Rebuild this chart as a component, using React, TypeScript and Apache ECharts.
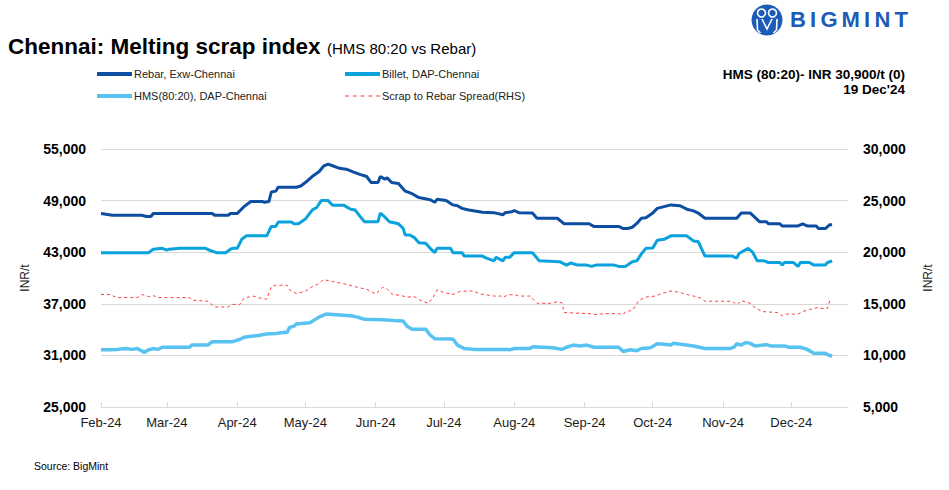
import React, { useEffect, useRef } from 'react';
import * as echarts from 'echarts';

const FONT = '"Liberation Sans", Arial, sans-serif';

// Axis ranges / ticks
const axisStart = '2024-02-01';
const axisEnd = '2024-12-26';
const monthTickLabels = ['Feb-24', 'Mar-24', 'Apr-24', 'May-24', 'Jun-24', 'Jul-24', 'Aug-24', 'Sep-24', 'Oct-24', 'Nov-24', 'Dec-24'];
const leftAxis = { min: 25000, max: 55000, interval: 6000 };
const rightAxis = { min: 5000, max: 30000, interval: 5000 };

const seriesNames = ['Rebar, Exw-Chennai', 'Billet, DAP-Chennai', 'HMS(80:20), DAP-Chennai', 'Scrap to Rebar Spread(RHS)'];

// Values (date MM-DD in 2024, INR/t)
const rebar: [string, number][] = [
  ['02-01', 47500], ['02-06', 47300], ['02-19', 47300], ['02-21', 47150], ['02-23', 47150], ['02-24', 47500],
  ['03-21', 47500], ['03-22', 47300], ['03-28', 47300], ['03-29', 47500], ['04-01', 47500], ['04-04', 48300],
  ['04-07', 48900], ['04-12', 48900], ['04-13', 48800], ['04-15', 48900], ['04-16', 50000], ['04-18', 50100],
  ['04-19', 50550], ['04-27', 50550], ['04-29', 50700], ['05-01', 51100], ['05-04', 51800], ['05-07', 52350],
  ['05-09', 53000], ['05-11', 53250], ['05-13', 53050], ['05-16', 52750], ['05-19', 52650], ['05-22', 52350],
  ['05-25', 52050], ['05-28', 51800], ['05-30', 51100], ['06-02', 51100], ['06-03', 51800], ['06-05', 51500],
  ['06-06', 51650], ['06-08', 51100], ['06-11', 51000], ['06-14', 50100], ['06-17', 49800], ['06-20', 49350],
  ['06-25', 49100], ['06-27', 48800], ['06-28', 49150], ['07-02', 49000], ['07-05', 48500], ['07-07', 48400],
  ['07-09', 48100], ['07-12', 47900], ['07-18', 47650], ['07-23', 47600], ['07-27', 47350], ['07-28', 47600],
  ['07-31', 47700], ['08-01', 47850], ['08-03', 47600], ['08-09', 47550], ['08-11', 46950], ['08-20', 46950],
  ['08-23', 46300], ['09-03', 46300], ['09-05', 46000], ['09-16', 46000], ['09-18', 45750], ['09-20', 45750],
  ['09-22', 45900], ['09-24', 46350], ['09-26', 46950], ['09-28', 47000], ['10-01', 47550], ['10-03', 48100],
  ['10-06', 48300], ['10-09', 48500], ['10-13', 48400], ['10-16', 48000], ['10-19', 47800], ['10-21', 47550],
  ['10-24', 46950], ['11-07', 46950], ['11-09', 47550], ['11-13', 47550], ['11-17', 46550], ['11-20', 46550],
  ['11-21', 46300], ['11-26', 46300], ['11-27', 46050], ['12-04', 46050], ['12-06', 46300], ['12-08', 46050],
  ['12-12', 46050], ['12-13', 45750], ['12-16', 45750], ['12-18', 46200], ['12-19', 46200],
];

const billet: [string, number][] = [
  ['02-01', 42950], ['02-22', 42950], ['02-24', 43350], ['02-28', 43450], ['03-01', 43250], ['03-02', 43350],
  ['03-07', 43450], ['03-18', 43450], ['03-20', 43200], ['03-23', 42950], ['03-27', 42950], ['03-29', 43350],
  ['03-30', 43450], ['04-01', 43450], ['04-03', 44500], ['04-05', 44900], ['04-14', 44900], ['04-16', 46000],
  ['04-18', 46000], ['04-19', 46500], ['04-25', 46500], ['04-26', 46300], ['04-28', 46300], ['05-01', 46850],
  ['05-04', 47900], ['05-06', 48200], ['05-08', 49000], ['05-11', 49000], ['05-13', 48450], ['05-18', 48450],
  ['05-21', 48000], ['05-23', 47900], ['05-25', 47200], ['05-27', 46550], ['06-02', 46550], ['06-03', 47550],
  ['06-05', 47100], ['06-07', 46550], ['06-11', 46300], ['06-13', 45800], ['06-14', 45000], ['06-16', 45000],
  ['06-18', 44700], ['06-20', 44100], ['06-23', 44050], ['06-25', 43450], ['06-27', 42950], ['06-28', 43450],
  ['07-04', 43450], ['07-05', 42950], ['07-09', 42950], ['07-10', 42550], ['07-18', 42550], ['07-19', 42400],
  ['07-21', 42200], ['07-23', 42000], ['07-24', 42400], ['07-27', 42000], ['07-28', 42400], ['07-30', 42400],
  ['08-01', 42950], ['08-09', 42950], ['08-12', 42000], ['08-21', 41900], ['08-24', 41500], ['08-26', 41750],
  ['08-29', 41500], ['09-02', 41500], ['09-04', 41350], ['09-06', 41500], ['09-14', 41500], ['09-16', 41350],
  ['09-19', 41350], ['09-22', 41900], ['09-24', 42000], ['09-26', 42800], ['09-28', 43450], ['10-01', 43500],
  ['10-03', 44400], ['10-06', 44500], ['10-09', 44900], ['10-16', 44900], ['10-19', 44300], ['10-21', 44250],
  ['10-24', 42550], ['11-05', 42550], ['11-07', 42300], ['11-08', 42850], ['11-12', 43450], ['11-14', 43000],
  ['11-16', 42000], ['11-19', 42000], ['11-21', 41800], ['11-26', 41800], ['11-27', 41500], ['11-28', 41800],
  ['12-02', 41800], ['12-04', 41350], ['12-05', 41800], ['12-09', 41800], ['12-11', 41500], ['12-16', 41500],
  ['12-17', 41800], ['12-19', 42000],
];

const hms: [string, number][] = [
  ['02-01', 31650], ['02-05', 31650], ['02-08', 31700], ['02-12', 31800], ['02-15', 31700], ['02-17', 31800],
  ['02-19', 31500], ['02-20', 31350], ['02-22', 31650], ['02-24', 31800], ['02-26', 31700], ['02-28', 31950],
  ['03-11', 31950], ['03-12', 32200], ['03-19', 32200], ['03-21', 32600], ['03-30', 32600], ['04-02', 32850],
  ['04-04', 33100], ['04-08', 33250], ['04-11', 33350], ['04-14', 33500], ['04-18', 33550], ['04-22', 33700],
  ['04-23', 33650], ['04-24', 34250], ['04-26', 34400], ['04-27', 34650], ['05-03', 34800], ['05-07', 35450],
  ['05-10', 35800], ['05-13', 35750], ['05-21', 35600], ['05-24', 35450], ['05-27', 35200], ['06-04', 35150],
  ['06-09', 35050], ['06-13', 35000], ['06-15', 34350], ['06-17', 34050], ['06-23', 34050], ['06-25', 33350],
  ['06-27', 32950], ['07-05', 32900], ['07-07', 32200], ['07-10', 31800], ['07-14', 31700], ['07-29', 31700],
  ['07-30', 31650], ['08-01', 31800], ['08-08', 31800], ['08-09', 32000], ['08-18', 31900], ['08-22', 31700],
  ['08-24', 31950], ['08-27', 32200], ['08-30', 32100], ['09-02', 32200], ['09-05', 31950], ['09-16', 31950],
  ['09-18', 31450], ['09-21', 31650], ['09-24', 31550], ['09-26', 31800], ['09-30', 31900], ['10-03', 32350],
  ['10-06', 32300], ['10-09', 32200], ['10-10', 32400], ['10-19', 32100], ['10-24', 31800], ['11-04', 31800],
  ['11-06', 32000], ['11-07', 32350], ['11-09', 32200], ['11-11', 32500], ['11-13', 32400], ['11-15', 32100],
  ['11-20', 32250], ['11-22', 32100], ['11-28', 32100], ['11-30', 31950], ['12-05', 31950], ['12-08', 31700],
  ['12-11', 31250], ['12-16', 31250], ['12-17', 31100], ['12-19', 30900],
];

const spread: [string, number][] = [
  ['02-01', 15900], ['02-05', 15900], ['02-08', 15600], ['02-17', 15600], ['02-19', 15900], ['02-22', 15700],
  ['02-24', 15800], ['02-26', 15600], ['03-11', 15600], ['03-12', 15350], ['03-19', 15250], ['03-22', 14700],
  ['03-28', 14700], ['03-30', 14950], ['04-02', 14900], ['04-04', 15550], ['04-08', 15750], ['04-11', 15550],
  ['04-14', 15450], ['04-16', 16650], ['04-18', 16800], ['04-23', 16800], ['04-24', 16350], ['04-27', 16000],
  ['05-01', 16200], ['05-04', 16650], ['05-07', 16950], ['05-09', 17350], ['05-13', 17150], ['05-18', 16950],
  ['05-24', 16600], ['05-28', 16400], ['06-01', 15950], ['06-04', 16600], ['06-06', 16450], ['06-08', 15950],
  ['06-12', 15800], ['06-15', 15650], ['06-18', 15700], ['06-20', 15400], ['06-24', 15050], ['06-26', 15500],
  ['06-28', 16350], ['07-01', 16100], ['07-05', 15900], ['07-08', 16200], ['07-14', 16250], ['07-17', 15950],
  ['07-23', 15750], ['07-26', 15750], ['07-27', 15600], ['07-29', 15850], ['08-01', 15900], ['08-03', 15750],
  ['08-08', 15750], ['08-11', 15050], ['08-17', 15050], ['08-20', 15200], ['08-22', 15100], ['08-23', 14150],
  ['09-03', 14050], ['09-05', 13950], ['09-10', 14050], ['09-16', 14050], ['09-18', 13950], ['09-19', 14250],
  ['09-22', 14350], ['09-25', 15350], ['09-28', 15650], ['10-02', 15750], ['10-05', 16000], ['10-09', 16250],
  ['10-13', 16100], ['10-16', 15900], ['10-19', 15750], ['10-22', 15550], ['10-24', 15250], ['11-05', 15250],
  ['11-07', 14900], ['11-09', 15300], ['11-13', 15050], ['11-15', 14650], ['11-18', 14250], ['11-25', 14150],
  ['11-27', 13850], ['11-29', 14000], ['12-04', 14000], ['12-06', 14250], ['12-09', 14450], ['12-13', 14650],
  ['12-14', 14550], ['12-17', 14550], ['12-18', 15350], ['12-19', 15400],
];

const pad = (n: number) => (n < 10 ? '0' + n : '' + n);

function buildCategories(): string[] {
  const out: string[] = [];
  const s = new Date(axisStart + 'T00:00:00Z').getTime();
  const e = new Date(axisEnd + 'T00:00:00Z').getTime();
  for (let t = s; t <= e; t += 86400000) {
    const d = new Date(t);
    out.push(pad(d.getUTCMonth() + 1) + '-' + pad(d.getUTCDate()));
  }
  return out;
}

const fmt = (v: number) => v.toLocaleString('en-US');

const SOLID_ICON = 'path://M0,0H36V4H0Z';
const DASH_ICON = 'path://M0,0H4V1H0ZM8,0H12V1H8ZM16,0H20V1H16ZM24,0H28V1H24ZM32,0H36V1H32Z';

export default function App() {
  const ref = useRef<HTMLDivElement>(null);
  useEffect(() => {
    if (!ref.current) return;
    const chart = echarts.init(ref.current, null, { renderer: 'svg' });
    const cats = buildCategories();
    const toData = (arr: [string, number][]) => arr.map(([d, v]) => [cats.indexOf(d), v]);
    const isMonthStart = (_i: number, v: string) => v.slice(3) === '01';
    const monthLabel = (v: string) => monthTickLabels[parseInt(v.slice(0, 2), 10) - 2] || '';

    const colors = ['#0b4ea2', '#0aa2dd', '#58c3f1', '#ff3b3b'];

    const legendAt = (name: string, left: number, top: number, dashed: boolean) => ({
      show: true,
      data: [{ name, icon: dashed ? DASH_ICON : SOLID_ICON }],
      left,
      top,
      padding: 0,
      itemWidth: 35,
      itemHeight: dashed ? 1.2 : 4,
      selectedMode: false,
      textStyle: { fontSize: 11, color: '#222', fontFamily: FONT, padding: [0, 0, 0, -3] },
    });

    const white = '#ffffff';
    const logoBlue = '#1c5cb6';
    const logoLetters: [string, number][] = [['B', 790], ['I', 810], ['G', 820.5], ['M', 841.5], ['I', 864], ['N', 874.5], ['T', 894.5]];

    chart.setOption({
      animation: false,
      backgroundColor: '#ffffff',
      textStyle: { fontFamily: FONT },
      grid: { left: 101, right: 101, top: 149, bottom: 83, containLabel: false },
      legend: [
        legendAt(seriesNames[0], 97, 68.5, false),
        legendAt(seriesNames[1], 345, 68.5, false),
        legendAt(seriesNames[2], 97, 90.5, false),
        legendAt(seriesNames[3], 345, 90.5, true),
      ],
      xAxis: {
        type: 'category',
        data: cats,
        boundaryGap: false,
        axisLine: { lineStyle: { color: '#d9d9d9', width: 1 } },
        axisTick: { inside: true, length: 5, interval: isMonthStart, lineStyle: { color: '#d9d9d9' } },
        axisLabel: { interval: isMonthStart, formatter: monthLabel, color: '#1a1a1a', fontSize: 13, margin: 9, fontFamily: FONT },
        splitLine: { show: false },
      },
      yAxis: [
        {
          type: 'value',
          position: 'left',
          min: leftAxis.min,
          max: leftAxis.max,
          interval: leftAxis.interval,
          name: 'INR/t',
          nameLocation: 'middle',
          nameGap: 70,
          nameTextStyle: { fontSize: 12, color: '#222', fontFamily: FONT },
          axisLine: { show: false },
          axisTick: { show: false },
          axisLabel: { fontSize: 14, fontWeight: 'bold', color: '#000', margin: 15, formatter: fmt, fontFamily: FONT },
          splitLine: { lineStyle: { color: '#d9d9d9', width: 1 } },
        },
        {
          type: 'value',
          position: 'right',
          min: rightAxis.min,
          max: rightAxis.max,
          interval: rightAxis.interval,
          name: 'INR/t',
          nameLocation: 'middle',
          nameGap: 74,
          nameTextStyle: { fontSize: 12, color: '#222', fontFamily: FONT },
          axisLine: { show: false },
          axisTick: { show: false },
          axisLabel: { fontSize: 14, fontWeight: 'bold', color: '#000', margin: 15, formatter: fmt, fontFamily: FONT },
          splitLine: { show: false },
        },
      ],
      series: [
        {
          name: seriesNames[0], type: 'line', yAxisIndex: 0, data: toData(rebar), symbol: 'none', showSymbol: false,
          lineStyle: { color: colors[0], width: 3 }, itemStyle: { color: colors[0] }, z: 4,
        },
        {
          name: seriesNames[1], type: 'line', yAxisIndex: 0, data: toData(billet), symbol: 'none', showSymbol: false,
          lineStyle: { color: colors[1], width: 3 }, itemStyle: { color: colors[1] }, z: 3,
        },
        {
          name: seriesNames[2], type: 'line', yAxisIndex: 0, data: toData(hms), symbol: 'none', showSymbol: false,
          lineStyle: { color: colors[2], width: 3.5 }, itemStyle: { color: colors[2] }, z: 2,
        },
        {
          name: seriesNames[3], type: 'line', yAxisIndex: 1, data: toData(spread), symbol: 'none', showSymbol: false,
          lineStyle: { color: colors[3], width: 1, type: [3, 3] }, itemStyle: { color: colors[3] }, z: 1,
        },
      ],
      graphic: [
        {
          type: 'text', left: 8, top: 34.5, z: 10,
          style: { text: 'Chennai: Melting scrap index', fontSize: 22.5, fontWeight: 'bold', fill: '#000', fontFamily: FONT },
        },
        {
          type: 'text', left: 327, top: 41, z: 10,
          style: { text: '(HMS 80:20 vs Rebar)', fontSize: 15, fill: '#000', fontFamily: FONT },
        },
        {
          type: 'text', right: 44, top: 67, z: 10,
          style: { text: 'HMS (80:20)- INR 30,900/t (0)', fontSize: 13.5, fontWeight: 'bold', fill: '#000', fontFamily: FONT },
        },
        {
          type: 'text', right: 44, top: 82, z: 10,
          style: { text: "19 Dec'24", fontSize: 13.5, fontWeight: 'bold', fill: '#000', fontFamily: FONT },
        },
        {
          type: 'text', left: 34, top: 460, z: 10,
          style: { text: 'Source: BigMint', fontSize: 10.5, fill: '#000', fontFamily: FONT },
        },
        // Logo mark
        { type: 'circle', shape: { cx: 767, cy: 20, r: 15.5 }, style: { fill: logoBlue }, z: 10 },
        { type: 'circle', shape: { cx: 761.5, cy: 13, r: 4 }, style: { fill: logoBlue, stroke: white, lineWidth: 1.6 }, z: 11 },
        { type: 'circle', shape: { cx: 772.5, cy: 13, r: 4 }, style: { fill: logoBlue, stroke: white, lineWidth: 1.6 }, z: 11 },
        { type: 'polyline', shape: { points: [[757, 19], [757.5, 30], [760.5, 33]] }, style: { stroke: white, lineWidth: 1.6, fill: 'none' }, z: 11 },
        { type: 'polyline', shape: { points: [[777, 19], [776.5, 30], [773.5, 33]] }, style: { stroke: white, lineWidth: 1.6, fill: 'none' }, z: 11 },
        { type: 'polyline', shape: { points: [[762, 19], [767, 29], [772, 19]] }, style: { stroke: white, lineWidth: 1.6, fill: 'none' }, z: 11 },
        // Logo letters
        ...logoLetters.map(([ch, x]) => ({
          type: 'text', left: x, top: 8, z: 10,
          style: { text: ch, fontSize: 22, fontWeight: 'bold', fill: logoBlue, fontFamily: FONT },
        })),
      ],
    });
    return () => chart.dispose();
  }, []);
  return <div ref={ref} style={{ position: 'fixed', left: 0, top: 0, width: 949, height: 490, background: '#fff' }} />;
}
